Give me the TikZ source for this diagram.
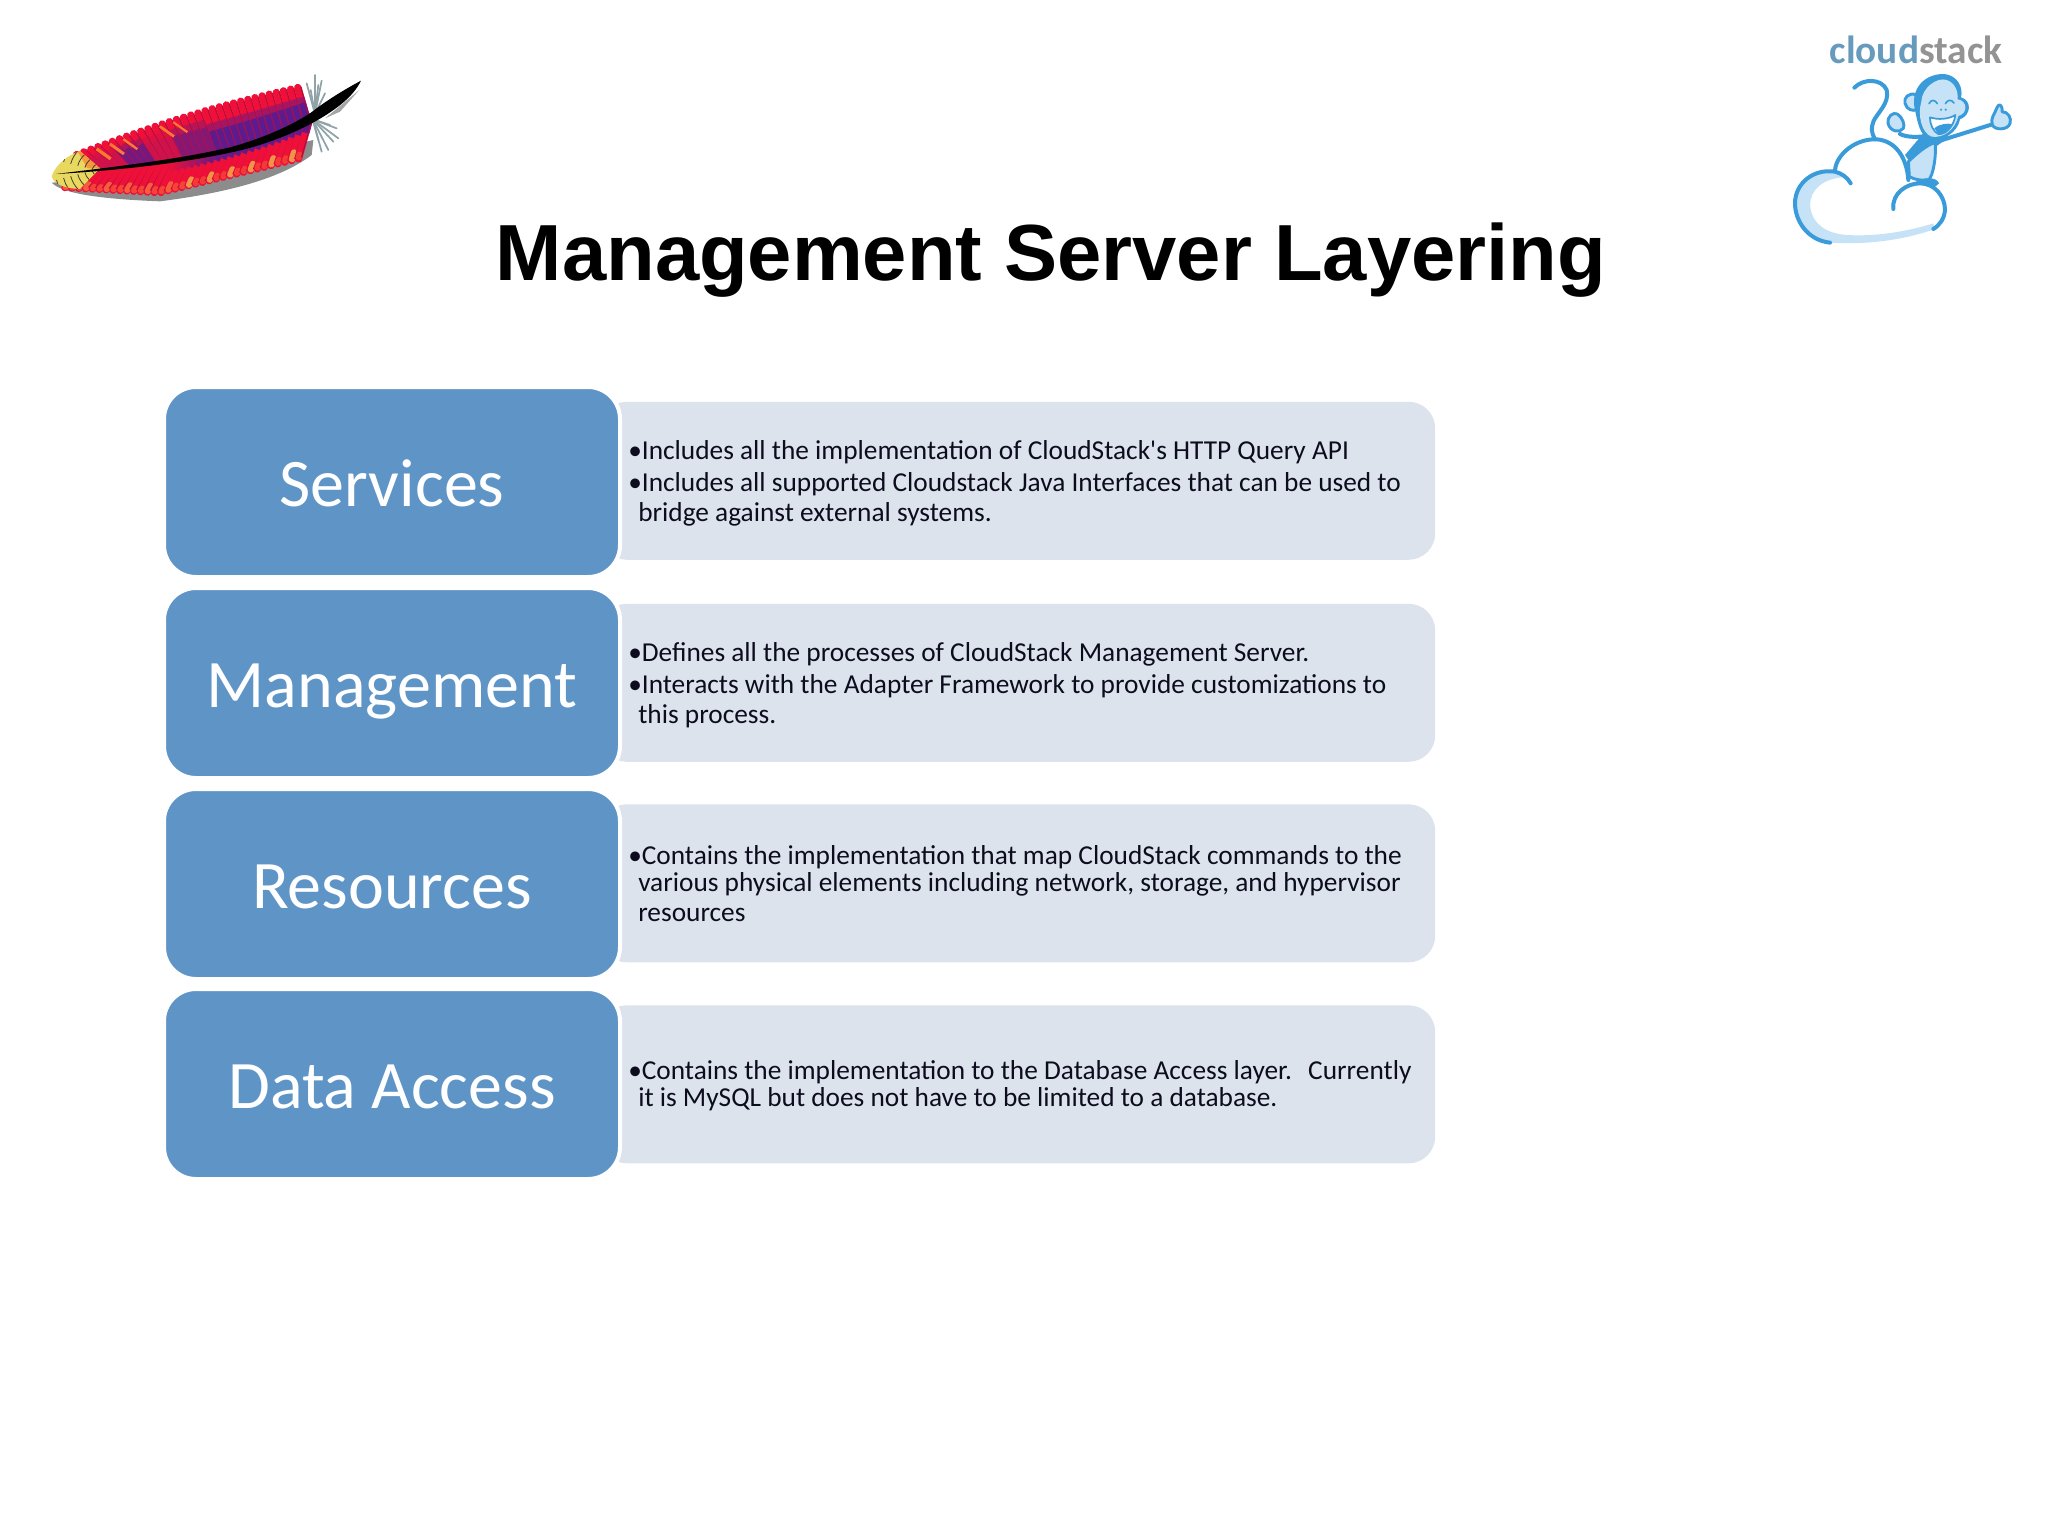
\documentclass[tikz,border=0pt]{standalone}
\usepackage{fontspec}
\setmainfont{Carlito}[Ligatures=TeXOff]
\newfontfamily\titlefont{Liberation Sans}
\usetikzlibrary{calc}
\definecolor{layerblue}{HTML}{5F95C6}
\definecolor{descgray}{HTML}{DDE3EC}
\definecolor{desctextc}{HTML}{0C0C1E}
\definecolor{monkeyblue}{HTML}{3A9BDA}
\definecolor{monkeylight}{HTML}{C6E2F6}
\definecolor{featherred}{HTML}{EE1038}
\definecolor{feathercrimson}{HTML}{B00C44}
\definecolor{featherpurple}{HTML}{4E1C96}
\definecolor{featherorange}{HTML}{FF7A30}
\definecolor{featheryellow}{HTML}{E8D860}
\definecolor{barbgray}{HTML}{8FA3A8}
\tikzset{
  layerbox/.style={draw=white,line width=3pt,fill=layerblue,rounded corners=24pt,minimum width=342pt,minimum height=142.5pt,inner sep=0pt,text=white,text height=40pt,text depth=4pt,font=\fontsize{51}{60}\selectfont},
  descbox/.style={fill=descgray,rounded corners=20pt,minimum width=626.2pt,minimum height=118.5pt,inner sep=0pt},
  desctext/.style={anchor=west,align=left,inner sep=0pt,font=\fontsize{20.5}{22.4}\selectfont,text=desctextc},
  logoline/.style={draw=monkeyblue,line width=3pt,line cap=round,line join=round},
  thinlogo/.style={draw=monkeyblue,line width=2.2pt,line cap=round,line join=round},
  barbline/.style={draw=barbgray,line width=1.3pt,line cap=round},
}
\newcommand{\hang}{\hspace*{7.5pt}}
\newcommand{\bul}{\textbullet}
\begin{document}
\begin{tikzpicture}[x=0.75pt,y=-0.75pt,
  declare function={
    ys(\x)=400-0.12*(\x-170)-(0.0206*max(\x-500,0))^2;
    yt(\x)=340-0.3*(\x-240)-15*sin((\x-240)/670*180);
    yb(\x)=458-0.245*max(\x-480,0)-0.054*max(480-\x,0);
  }]
\useasboundingbox (0,0) rectangle (2048,1536);
\fill[white] (0,0) rectangle (2048,1536);
% title
\node[font=\titlefont\bfseries\fontsize{59.7}{70}\selectfont,text=black] (title) at (1051,260.5) {Management Server Layering};
% description boxes
\node[descbox,anchor=north west] (d1) at (600,401.5) {};
\node[descbox,anchor=north west] (d2) at (600,603.5) {};
\node[descbox,anchor=north west] (d3) at (600,804) {};
\node[descbox,anchor=north west] (d4) at (600,1005) {};
% layer boxes
\node[layerbox,anchor=north west] (l1) at (162,385) {Services};
\node[layerbox,anchor=north west] (l2) at (162,586) {Management};
\node[layerbox,anchor=north west] (l3) at (162,787) {Resources};
\node[layerbox,anchor=north west] (l4) at (162,987) {Data Access};
% text
\node[desctext] (t1) at (628,483.6) {\bul Includes all the implementation of CloudStack's HTTP Query API\\[1.6pt]\bul Includes all supported Cloudstack Java Interfaces that can be used to\\\hang bridge against external systems.};
\node[desctext] (t2) at (628,685.6) {\bul Defines all the processes of CloudStack Management Server.\\[1.6pt]\bul Interacts with the Adapter Framework to provide customizations to\\\hang this process.};
\node[desctext] (t3) at (628,883.5) {\bul Contains the implementation that map CloudStack commands to the\\[-1.8pt]\hang various physical elements including network, storage, and hypervisor\\\hang resources};
\node[desctext] (t4) at (628,1085.6) {\bul Contains the implementation to the Database Access layer.\ \ \kern3pt Currently\\[-1.8pt]\hang it is MySQL but does not have to be limited to a database.};
% feather (coordinates: 3x crop from (0,40))
\begin{scope}[shift={(0,40)},x=0.25pt,y=-0.25pt]
  % shadow
  \fill[black!45] (155,428) .. controls (190,465) and (330,478) .. (480,484) .. controls (650,462) and (830,425) .. (935,345) -- (940,300) -- (500,400) -- cycle;
  \fill[gray!70] (975,235) -- (1078,150) -- (1020,215) -- cycle;
  % loose barbs
  \foreach \tx/\ty in {920/130,932/150,945/105,955/135,965/122,975/160}
    \draw[barbline] (945,222) -- (\tx,\ty);
  \foreach \tx/\ty in {1010/265,1015/295,1000/305,985/330,965/335,955/300,990/255}
    \draw[barbline] (938,238) -- (\tx,\ty);
  % lower vanes
  \foreach \x in {250,270,...,930} {
    \pgfmathsetmacro\ex{\x-(55-0.03*(\x-250))}
    \pgfmathsetmacro\sy{ys(\x)}
    \pgfmathsetmacro\ey{yb(\ex)}
    \pgfmathsetmacro\pur{\x>520?min(85,(\x-520)*0.6):0}
    \pgfmathsetmacro\tipfrom{mod(\x,60)<20?.8:.9}
    \pgfmathsetmacro\tipc{mod(\x,60)<20?(\x>600?25:70):(\x>600?100:92)}
    \coordinate (s) at (\x,\sy);
    \coordinate (e) at (\ex,\ey);
    \draw[featherred,line width=5.6pt,line cap=round] (s) -- (e);
    \draw[featherred!\tipc!featheryellow!60!featherorange,line width=4.6pt,line cap=round] ($(s)!\tipfrom!(e)$) -- ($(s)!.97!(e)$);
    \draw[featherpurple!\pur!featherred,line width=5.6pt] (s) -- ($(s)!.38!(e)$);
    \draw[feathercrimson,line width=.8pt] ($(s)+(9,0)$) -- ($(e)+(9,-4)$);
  }
  % upper vanes
  \foreach \x in {300,320,...,925} {
    \pgfmathsetmacro\ex{\x-(70-0.07*(\x-300))}
    \pgfmathsetmacro\sy{ys(\x)}
    \pgfmathsetmacro\ey{yt(\ex)}
    \pgfmathsetmacro\pur{\x>650?90:(\x>540?65:((\x>380&&\x<470)?75:20))}
    \pgfmathsetmacro\hgt{\x>650?.5:.62}
    \coordinate (s) at (\x,\sy);
    \coordinate (e) at (\ex,\ey);
    \draw[featherred,line width=5.6pt,line cap=round] (s) -- (e);
    \draw[featherpurple!\pur!featherred,line width=5.6pt] (s) -- ($(s)!\hgt!(e)$);
    \draw[featherpurple!\pur!featherred,line width=5.6pt,opacity=.5] ($(s)!\hgt!(e)$) -- ($(s)!{\hgt+.18}!(e)$);
    \draw[feathercrimson,line width=.8pt] ($(s)+(9,0)$) -- ($(e)+(9,-2)$);
  }
  % orange upper streaks near the tip
  \foreach \x/\w in {290/2.4,330/2.2,370/1.8,480/2,520/1.6}
    \draw[featherorange,line width=\w pt] (\x,{yt(\x)+5}) -- ({\x+42},{yt(\x)+35});
  % yellow tip
  \begin{scope}
    \clip (155,408) .. controls (170,370) and (205,345) .. (240,333) -- (300,385) -- (240,447) .. controls (200,445) and (160,435) .. (155,408) -- cycle;
    \fill[featheryellow] (150,320) rectangle (310,450);
    \fill[featherorange!70!featheryellow] (225,320) -- (300,320) -- (300,385) -- (262,385) -- cycle;
    \foreach \r in {25,47,69,91,113,135} {
      \draw[black!70!olive,line width=.6pt] (300,385) ++ (165:\r) arc[start angle=165,end angle=100,radius=\r];
      \draw[black!70!olive,line width=.6pt] (300,395) ++ (195:\r) arc[start angle=195,end angle=260,radius=\r];
    }
  \end{scope}
  % shaft
  \fill[black] (168,402) .. controls (300,385) and (520,362) .. (690,322) .. controls (800,292) and (900,245) .. (950,205) .. controls (990,175) and (1040,145) .. (1083,122) .. controls (1060,170) and (1010,205) .. (970,230) .. controls (880,285) and (770,322) .. (690,338) .. controls (520,375) and (300,395) .. (168,402) -- cycle;
\end{scope}
% logo (coordinates: 3x crop from (1760,20))
\begin{scope}[shift={(1760,20)},x=0.25pt,y=-0.25pt]
  \node[anchor=base west,inner sep=0pt,font=\bfseries\fontsize{29.5}{32}\selectfont] (logotext) at (208,130) {\textcolor{monkeyblue!60!gray!90}{cloud}\textcolor{gray!85}{stack}};
  % cloud pale parts
  \fill[monkeylight] (210,668) .. controls (140,660) and (105,600) .. (105,550) .. controls (105,490) and (160,445) .. (240,462) -- (250,472) .. controls (190,475) and (150,510) .. (150,555) .. controls (155,610) and (195,640) .. (260,645) .. controls (350,650) and (440,635) .. (520,610) -- (522,628) .. controls (430,660) and (320,675) .. (210,668) -- cycle;
  % cloud outline
  \draw[logoline] (210,668) .. controls (140,660) and (105,600) .. (105,550) .. controls (105,490) and (160,445) .. (225,455) .. controls (245,460) and (262,472) .. (272,490);
  \draw[logoline] (225,450) .. controls (230,400) and (290,355) .. (350,358) .. controls (405,362) and (440,410) .. (445,480);
  \draw[logoline] (400,567) .. controls (395,520) and (440,490) .. (480,490) .. controls (525,490) and (555,530) .. (555,570) .. controls (553,595) and (540,615) .. (520,627);
  % tail
  \draw[logoline] (283,203) .. controls (310,175) and (365,175) .. (380,210) .. controls (390,250) and (350,280) .. (340,305) .. controls (332,325) and (335,340) .. (345,358);
  % torso
  \fill[monkeyblue] (490,340) -- (570,350) -- (530,378) -- (445,420) -- (435,405) -- cycle;
  \draw[thinlogo,fill=monkeylight] (445,425) .. controls (470,400) and (500,375) .. (525,368) .. controls (530,400) and (520,470) .. (505,480) .. controls (490,482) and (465,480) .. (448,470) -- cycle;
  \fill[monkeyblue] (465,487) .. controls (490,470) and (530,470) .. (537,490) .. controls (530,507) and (500,497) .. (465,487) -- cycle;
  \draw[logoline] (540,362) -- (700,312);
  \draw[logoline] (420,342) .. controls (440,352) and (470,352) .. (500,348);
  \begin{scope}[shift={(360,120)}]
    % hands
    \draw[thinlogo,fill=monkeylight] (24,190) .. controls (20,170) and (40,155) .. (52,162) .. controls (68,172) and (75,195) .. (70,205) .. controls (60,220) and (30,215) .. (24,190) -- cycle;
    \draw[thinlogo,fill=monkeylight] (337,195) .. controls (330,175) and (345,160) .. (350,145) .. controls (355,128) and (368,132) .. (366,155) .. controls (385,155) and (395,175) .. (390,190) .. controls (385,210) and (345,212) .. (337,195) -- cycle;
    % ear
    \draw[thinlogo,fill=monkeylight] (110,105) .. controls (85,95) and (70,115) .. (75,130) .. controls (80,150) and (100,155) .. (112,148) -- cycle;
    % head
    \fill[monkeyblue] (105,150) .. controls (90,90) and (130,42) .. (190,42) .. controls (235,45) and (250,85) .. (243,112) .. controls (275,120) and (275,165) .. (240,178) .. controls (232,220) and (185,245) .. (150,238) .. controls (120,230) and (112,185) .. (105,150) -- cycle;
    \fill[monkeylight] (124,125) .. controls (125,85) and (170,50) .. (200,60) .. controls (225,68) and (235,95) .. (233,118) .. controls (262,122) and (265,160) .. (235,168) .. controls (225,210) and (190,235) .. (155,230) .. controls (125,220) and (112,165) .. (124,125) -- cycle;
    % face
    \draw[thinlogo,line width=1.2pt] (147,131) .. controls (153,118) and (165,118) .. (172,131);
    \draw[thinlogo,line width=1.2pt] (196,131) .. controls (203,118) and (215,118) .. (222,129);
    \fill[monkeyblue] (183,149) circle[radius=3.5] (197,149) circle[radius=3.5];
    \draw[thinlogo,line width=1.3pt,fill=white] (150,172) .. controls (175,180) and (205,178) .. (226,165) .. controls (222,200) and (195,225) .. (175,222) .. controls (160,215) and (150,195) .. (150,172) -- cycle;
    \fill[monkeyblue] (163,205) .. controls (180,190) and (205,190) .. (215,192) .. controls (205,212) and (190,222) .. (175,222) -- cycle;
  \end{scope}
\end{scope}
\end{tikzpicture}
\end{document}
